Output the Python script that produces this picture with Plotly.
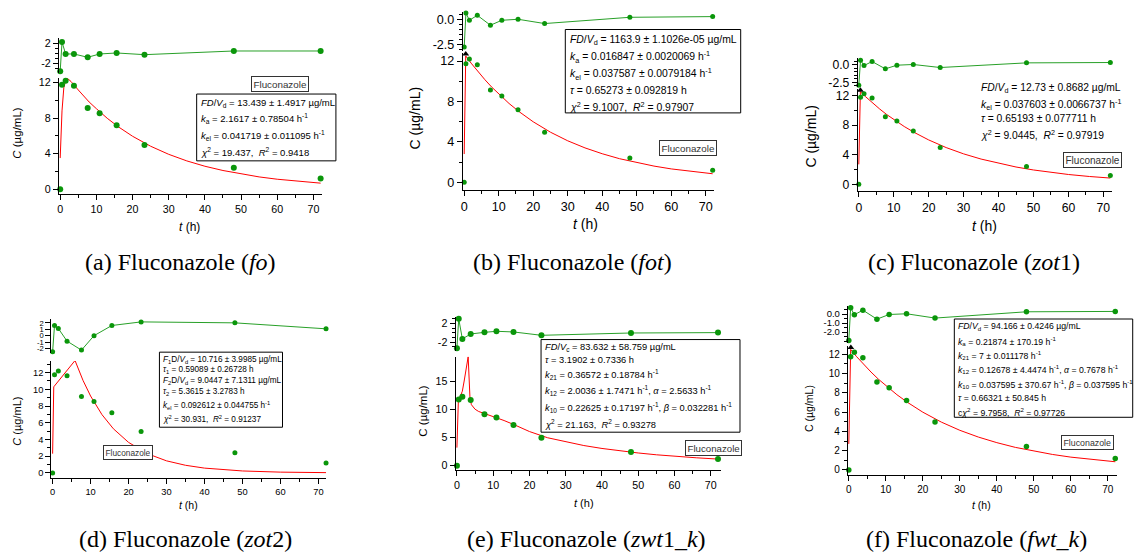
import plotly.graph_objects as go

W, H = 1137, 557

# ---------------- data ----------------
t_obs = [0, 0.5, 1.5, 3.8, 7.6, 10.9, 15.6, 23.3, 48, 72]
c_obs = [0, 11.74, 12.2, 11.63, 9.13, 8.53, 7.19, 4.96, 2.42, 1.19]

res_a = [-3.6, 2.27, -0.13, -0.13, -0.8, -0.13, 0.07, -0.27, 0.47, 0.47]
res_b = [-2.77, 0.67, -0.07, 0.43, -0.57, -0.07, 0.03, -0.4, 0.23, 0.3]
res_c = [-2.88, 0.65, -0.1, 0.47, -0.57, -0.05, 0.05, -0.38, 0.28, 0.33]
res_d = [-2.5, 1.59, 1.12, -0.85, -2.25, 0.0, 1.59, 2.15, 2.0, 1.07]
res_e = [-3.26, 2.98, -1.3, -0.25, 0.1, 0.32, 0.18, -0.53, -0.04, 0.04]
res_f = [-2.93, 0.7, -0.07, 0.44, -0.56, -0.04, 0.04, -0.44, 0.26, 0.3]

fit_t_a = [0, 0.25, 0.5, 1, 1.5, 2, 3, 5, 8, 10, 13, 16, 20, 25, 30, 35, 40, 45, 50, 55, 60, 66, 72]
fit_c_a = [3.5, 6.0, 8.8, 11.4, 12.2, 12.45, 12.1, 11.15, 9.8, 9.05, 7.97, 7.03, 5.95, 4.83, 3.92, 3.18,
           2.58, 2.10, 1.70, 1.38, 1.12, 0.87, 0.68]

fit_t_b = [0, 0.45, 2, 4, 6, 8, 10, 13, 16, 20, 25, 30, 35, 40, 45, 50, 55, 60, 66, 72]
fit_c_b = [2.8, 12.5, 11.79, 10.94, 10.15, 9.41, 8.73, 7.80, 6.97, 5.99, 4.96, 4.11, 3.41, 2.83, 2.34,
           1.94, 1.61, 1.33, 1.06, 0.85]

fit_t_c = [0, 0.45, 2, 4, 6, 8, 10, 13, 16, 20, 25, 30, 35, 40, 45, 50, 55, 60, 66, 72]
fit_c_c = [2.7, 12.5, 11.79, 10.94, 10.15, 9.41, 8.73, 7.80, 6.97, 5.99, 4.96, 4.11, 3.41, 2.83, 2.34,
           1.94, 1.61, 1.33, 1.06, 0.85]

fit_t_d = [0, 0.3, 5.9, 8, 10, 13, 16, 20, 25, 30, 35, 40, 50, 60, 72]
fit_c_d = [2.3, 10.3, 13.45, 11.07, 9.2, 6.97, 5.28, 3.65, 2.29, 1.44, 0.91, 0.57, 0.23, 0.09, 0.03]

fit_t_e = [0, 0.4, 1, 1.5, 2, 2.5, 3.1, 3.6, 4, 5, 6, 8, 10, 13, 16, 20, 25, 30, 35, 40, 45, 50, 55, 60, 66, 72]
fit_c_e = [3.2, 11.5, 12.4, 13.2, 15.0, 17.0, 19.3, 12.0, 10.8, 10.0, 9.6, 9.15, 8.7, 8.0, 7.2, 6.05,
           4.95, 4.2, 3.57, 3.05, 2.62, 2.25, 1.93, 1.66, 1.4, 1.17]

fit_t_f = [0, 0.5, 2, 4, 6, 8, 10, 13, 16, 20, 25, 30, 35, 40, 45, 50, 55, 60, 66, 72]
fit_c_f = [2.7, 12.5, 11.79, 10.94, 10.15, 9.41, 8.73, 7.80, 6.97, 5.99, 4.96, 4.11, 3.41, 2.83, 2.34,
           1.94, 1.61, 1.33, 1.06, 0.85]

peak_b = (0.45, 12.7)
peak_c = (0.45, 12.7)
peak_d = (5.9, 13.7)
peak_e = (3.1, 19.6)
peak_f = (0.55, 12.7)

x_ticks = [0, 10, 20, 30, 40, 50, 60, 70]
x_minor = [5, 15, 25, 35, 45, 55, 65]

captions = [
    "(a) Fluconazole (<i>fo</i>)",
    "(b) Fluconazole (<i>fot</i>)",
    "(c) Fluconazole (<i>zot</i>1)",
    "(d) Fluconazole (<i>zot</i>2)",
    "(e) Fluconazole (<i>zwt</i>1_<i>k</i>)",
    "(f) Fluconazole (<i>fwt</i>_<i>k</i>)",
]

params_a = ["<i>FD</i>/<i>V</i><sub>d</sub> = 13.439 ± 1.4917 µg/mL",
            "<i>k</i><sub>a</sub> = 2.1617 ± 0.78504 h<sup>-1</sup>",
            "<i>k</i><sub>el</sub> = 0.041719 ± 0.011095 h<sup>-1</sup>",
            "<i>χ</i><sup>2</sup> = 19.437,  <i>R</i><sup>2</sup> = 0.9418"]
params_b = ["<i>FD</i>/<i>V</i><sub>d</sub> = 1163.9 ± 1.1026e-05 µg/mL",
            "<i>k</i><sub>a</sub> = 0.016847 ± 0.0020069 h<sup>-1</sup>",
            "<i>k</i><sub>el</sub> = 0.037587 ± 0.0079184 h<sup>-1</sup>",
            "<i>τ</i> = 0.65273 ± 0.092819 h",
            "<i>χ</i><sup>2</sup> = 9.1007,  <i>R</i><sup>2</sup> = 0.97907"]
params_c = ["<i>FD</i>/<i>V</i><sub>d</sub> = 12.73 ± 0.8682 µg/mL",
            "<i>k</i><sub>el</sub> = 0.037603 ± 0.0066737 h<sup>-1</sup>",
            "<i>τ</i> = 0.65193 ± 0.077711 h",
            "<i>χ</i><sup>2</sup> = 9.0445,  <i>R</i><sup>2</sup> = 0.97919"]
params_d = ["<i>F</i><sub>1</sub>D/<i>V</i><sub>d</sub> = 10.716 ± 3.9985 µg/mL",
            "<i>τ</i><sub>1</sub> = 0.59089 ± 0.26728 h",
            "<i>F</i><sub>2</sub>D/<i>V</i><sub>d</sub> = 9.0447 ± 7.1311 µg/mL",
            "<i>τ</i><sub>2</sub> = 5.3615 ± 3.2783 h",
            "<i>k</i><sub>el</sub> = 0.092612 ± 0.044755 h<sup>-1</sup>",
            "<i>χ</i><sup>2</sup> = 30.931,  <i>R</i><sup>2</sup> = 0.91237"]
params_e = ["<i>FD</i>/<i>V</i><sub>c</sub> = 83.632 ± 58.759 µg/mL",
            "<i>τ</i> = 3.1902 ± 0.7336 h",
            "<i>k</i><sub>21</sub> = 0.36572 ± 0.18784 h<sup>-1</sup>",
            "<i>k</i><sub>12</sub> = 2.0036 ± 1.7471 h<sup>-1</sup>, <i>α</i> = 2.5633 h<sup>-1</sup>",
            "<i>k</i><sub>10</sub> = 0.22625 ± 0.17197 h<sup>-1</sup>, <i>β</i> = 0.032281 h<sup>-1</sup>",
            "<i>χ</i><sup>2</sup> = 21.163,  <i>R</i><sup>2</sup> = 0.93278"]
params_f = ["<i>FD</i>/<i>V</i><sub>d</sub> = 94.166 ± 0.4246 µg/mL",
            "<i>k</i><sub>a</sub> = 0.21874 ± 170.19 h<sup>-1</sup>",
            "<i>k</i><sub>21</sub> = 7 ± 0.011178 h<sup>-1</sup>",
            "<i>k</i><sub>12</sub> = 0.12678 ± 4.4474 h<sup>-1</sup>, <i>α</i> = 0.7678 h<sup>-1</sup>",
            "<i>k</i><sub>10</sub> = 0.037595 ± 370.67 h<sup>-1</sup>, <i>β</i> = 0.037595 h<sup>-1</sup>",
            "<i>τ</i> = 0.66321 ± 50.845 h",
            "c<i>χ</i><sup>2</sup> = 9.7958,  <i>R</i><sup>2</sup> = 0.97726"]

# ---------------- layout specs (pixel geometry) ----------------
panels = [
    dict(res=res_a, ft=fit_t_a, fc=fit_c_a, peak=None, params=params_a,
         xpx=(57, 321), xr=(-0.36, 72.5), ypx=(76.7, 193.3), yr=(-0.53, 12.48),
         rpx=(36.7, 71.7), rr=(-4.0, 3.0),
         yt=[0, 4, 8, 12], ym=[2, 6, 10], rt=[-2, 2], rtt=["-2", "2"], rm=[-3, -1, 0, 1],
         tf=10.7, rtf=10.7, ms=6, ytitle="<i>C</i> (µg/mL)", ytpos=(15, 131.7), ytf=11.5,
         xtpos=(188.3, 226.7), xtf=12,
         box=(195, 92.7, 334.5, 160), pleft=197.5, plines=[102, 117, 134, 151], pf=9.5,
         leg=(278, 82.2), legf=9.8, cap=(179, 262)),
    dict(res=res_b, ft=fit_t_b, fc=fit_c_b, peak=peak_b, params=params_b,
         xpx=(461.7, 713.3), xr=(-0.38, 72.4), ypx=(51.7, 189.3), yr=(-0.75, 12.76),
         rpx=(10, 49.3), rr=(-3.16, 0.77),
         yt=[0, 4, 8, 12], ym=[2, 6, 10], rt=[-2.5, 0], rtt=["-2.5", "0.0"], rm=[-3, -2, -1.5, -1, -0.5, 0.5],
         tf=12.6, rtf=12.6, ms=5, ytitle="C (µg/mL)", ytpos=(413.3, 116.7), ytf=14,
         xtpos=(585, 224), xtf=14,
         box=(564.3, 27.7, 740, 111.7), pleft=566.5, plines=[38.3, 55, 72.7, 89.3, 105], pf=10.4,
         leg=(687, 146.7), legf=9.8, cap=(572, 262)),
    dict(res=res_c, ft=fit_t_c, fc=fit_c_c, peak=peak_c, params=params_c,
         xpx=(857.3, 1111.7), xr=(-0.29, 72.4), ypx=(87.3, 190.7), yr=(-0.94, 12.9),
         rpx=(56.7, 86), rr=(-3.2, 0.93),
         yt=[0, 4, 8, 12], ym=[2, 6, 10], rt=[-2.5, 0], rtt=["-2.5", "0.0"], rm=[-3, -2, -1.5, -1, -0.5, 0.5],
         tf=12.2, rtf=12.2, ms=5, ytitle="C (µg/mL)", ytpos=(810, 135), ytf=14,
         xtpos=(984, 226), xtf=14,
         box=None, pleft=978.3, plines=[87.3, 103.3, 117.3, 133.3], pf=10.3,
         leg=(1092.3, 158.7), legf=10, cap=(974, 262)),
    dict(res=res_d, ft=fit_t_d, fc=fit_c_d, peak=peak_d, params=params_d,
         xpx=(49.3, 325), xr=(-0.37, 72.1), ypx=(361.7, 479), yr=(-0.56, 13.38),
         rpx=(319.3, 354), rr=(-2.77, 2.6),
         yt=[0, 2, 4, 6, 8, 10, 12], ym=[1, 3, 5, 7, 9, 11, 13], rt=[-2, -1, 0, 1, 2],
         rtt=["-2", "-1", "0", "1", "2"], rm=[],
         tf=9.3, rtf=7.6, ms=5, ytitle="<i>C</i> (µg/mL)", ytpos=(15, 421.7), ytf=11,
         xtpos=(186.7, 506.7), xtf=10.5,
         box=(157.7, 352.7, 281, 428.3), pleft=159.5, plines=[360.5, 371, 382, 393, 406.5, 420.5], pf=8.2,
         leg=(126.7, 453.3), legf=8.3, cap=(184, 541)),
    dict(res=res_e, ft=fit_t_e, fc=fit_c_e, peak=peak_e, params=params_e,
         xpx=(454.3, 720), xr=(-0.39, 72.75), ypx=(357.3, 471.7), yr=(-0.82, 19.3),
         rpx=(317.3, 351.7), rr=(-3.9, 3.35),
         yt=[0, 5, 10, 15], ym=[], rt=[-2, 2], rtt=["-2", "2"], rm=[-3, -1, 0, 1, 3],
         tf=10.7, rtf=10.7, ms=6, ytitle="C (µg/mL)", ytpos=(421.7, 411.7), ytf=11.5,
         xtpos=(583.3, 505), xtf=11,
         box=(540, 340, 739.3, 433.3), pleft=542, plines=[348.5, 361, 375, 391.7, 408.3, 425], pf=9.3,
         leg=(712.8, 449.5), legf=9.7, cap=(586, 541)),
    dict(res=res_f, ft=fit_t_f, fc=fit_c_f, peak=peak_f, params=params_f,
         xpx=(847.3, 1116.7), xr=(-0.27, 72.4), ypx=(346, 476), yr=(-0.48, 12.9),
         rpx=(306.7, 343.3), rr=(-3.2, 0.85),
         yt=[0, 2, 4, 6, 8, 10, 12], ym=[1, 3, 5, 7, 9, 11], rt=[-2, -1, 0],
         rtt=["-2.0", "-1.0", "0.0"], rm=[-3, -2.5, -1.5, -0.5, 0.5],
         tf=10, rtf=9.5, ms=5.5, ytitle="C (µg/mL)", ytpos=(808.3, 409), ytf=10.5,
         xtpos=(981.7, 506.7), xtf=10.5,
         box=(954, 319.3, 1132.7, 418.3), pleft=956, plines=[327.3, 341.7, 356, 370, 385, 399.3, 412.7], pf=8.7,
         leg=(1087.8, 443.3), legf=8.8, cap=(976, 541)),
]

GREEN = "rgb(10,150,10)"
RGREEN = "rgb(40,160,40)"
FONT = "Arial, Liberation Sans, sans-serif"
SERIF = "Times New Roman, Liberation Serif, serif"


def PX(x):
    return x / W


def PY(y):
    return 1 - y / H


fig = go.Figure()
layout = dict(width=W, height=H, margin=dict(l=0, r=0, t=0, b=0), autosize=False,
              paper_bgcolor="white", plot_bgcolor="white", showlegend=False,
              font=dict(family=FONT, color="black"))
annotations = []
shapes = []

for i, p in enumerate(panels):
    nm, nr = 2 * i + 1, 2 * i + 2
    xm = "x" if nm == 1 else f"x{nm}"
    ym = "y" if nm == 1 else f"y{nm}"
    xr_ = f"x{nr}"
    yr_ = f"y{nr}"
    xmk = "xaxis" if nm == 1 else f"xaxis{nm}"
    ymk = "yaxis" if nm == 1 else f"yaxis{nm}"
    xrk = f"xaxis{nr}"
    yrk = f"yaxis{nr}"

    # main data
    fig.add_trace(go.Scatter(x=p["ft"], y=p["fc"], mode="lines", line=dict(color="red", width=1),
                             xaxis=xm, yaxis=ym, cliponaxis=False))
    fig.add_trace(go.Scatter(x=t_obs, y=c_obs, mode="markers", marker=dict(color=GREEN, size=p["ms"]),
                             xaxis=xm, yaxis=ym, cliponaxis=False))
    if p["peak"] is not None:
        fig.add_trace(go.Scatter(x=[p["peak"][0]], y=[p["peak"][1]], mode="markers",
                                 marker=dict(symbol="triangle-up", color="black", size=6),
                                 xaxis=xm, yaxis=ym, cliponaxis=False))
    # residuals
    fig.add_trace(go.Scatter(x=t_obs, y=p["res"], mode="lines+markers",
                             line=dict(color=RGREEN, width=1), marker=dict(color=GREEN, size=p["ms"]),
                             xaxis=xr_, yaxis=yr_, cliponaxis=False))

    xdom = [PX(p["xpx"][0]), PX(p["xpx"][1])]
    common = dict(showgrid=False, zeroline=False, showline=True, linecolor="black", linewidth=1,
                  ticks="outside", ticklen=5, tickwidth=1, tickcolor="black")
    tf = dict(family=FONT, size=p["tf"], color="black")
    rtf = dict(family=FONT, size=p["rtf"], color="black")
    layout[xmk] = dict(domain=xdom, range=list(p["xr"]), anchor=ym, tickmode="array",
                       tickvals=x_ticks, ticktext=[str(v) for v in x_ticks], tickfont=tf,
                       minor=dict(tickvals=x_minor, ticklen=3, ticks="outside", tickcolor="black"),
                       **common)
    layout[ymk] = dict(domain=[PY(p["ypx"][1]), PY(p["ypx"][0])], range=list(p["yr"]), anchor=xm,
                       tickmode="array", tickvals=p["yt"], ticktext=[str(v) for v in p["yt"]], tickfont=tf,
                       minor=dict(tickvals=p["ym"], ticklen=3, ticks="outside", tickcolor="black"),
                       **common)
    layout[xrk] = dict(domain=xdom, range=list(p["xr"]), anchor=yr_, visible=False)
    layout[yrk] = dict(domain=[PY(p["rpx"][1]), PY(p["rpx"][0])], range=list(p["rr"]), anchor=xr_,
                       tickmode="array", tickvals=p["rt"], ticktext=p["rtt"], tickfont=rtf,
                       minor=dict(tickvals=p["rm"], ticklen=3, ticks="outside", tickcolor="black"),
                       **common)

    # axis titles
    annotations.append(dict(text=p["ytitle"], x=PX(p["ytpos"][0]), y=PY(p["ytpos"][1]), xref="paper",
                            yref="paper", textangle=-90, showarrow=False, xanchor="center",
                            yanchor="middle", font=dict(family=FONT, size=p["ytf"])))
    annotations.append(dict(text="<i>t</i> (h)", x=PX(p["xtpos"][0]), y=PY(p["xtpos"][1]), xref="paper",
                            yref="paper", showarrow=False, xanchor="center", yanchor="middle",
                            font=dict(family=FONT, size=p["xtf"])))
    # parameter box
    if p["box"] is not None:
        x0, y0, x1, y1 = p["box"]
        shapes.append(dict(type="rect", xref="paper", yref="paper", x0=PX(x0), x1=PX(x1),
                           y0=PY(y1), y1=PY(y0), line=dict(color="black", width=1),
                           fillcolor="white", layer="above"))
    for line, yy in zip(p["params"], p["plines"]):
        annotations.append(dict(text=line, x=PX(p["pleft"]), y=PY(yy), xref="paper", yref="paper",
                                showarrow=False, xanchor="left", yanchor="middle",
                                font=dict(family=FONT, size=p["pf"])))
    # legend label
    annotations.append(dict(text="Fluconazole", x=PX(p["leg"][0]), y=PY(p["leg"][1]), xref="paper",
                            yref="paper", showarrow=False, xanchor="center", yanchor="middle",
                            font=dict(family=FONT, size=p["legf"], color="#333333"),
                            bordercolor="#333333", borderwidth=1, borderpad=1.5, bgcolor="white"))
    # caption
    annotations.append(dict(text=captions[i], x=PX(p["cap"][0]), y=PY(p["cap"][1]), xref="paper",
                            yref="paper", showarrow=False, xanchor="center", yanchor="middle",
                            font=dict(family=SERIF, size=24, color="black")))

layout["annotations"] = annotations
layout["shapes"] = shapes
fig.update_layout(**layout)
fig.write_html("out.html")
